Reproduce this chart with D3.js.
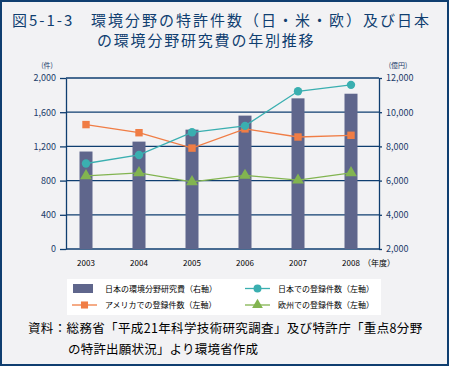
<!DOCTYPE html>
<html>
<head>
<meta charset="utf-8">
<style>
  body { margin: 0; }
  #chart { display: block; }
  text { font-family: "Noto Sans CJK JP", sans-serif; }
  .tick text { font-size: 9px; fill: #1b3c6a; }
  .year text { font-size: 8px; fill: #000; }
  .legend text { font-size: 8px; fill: #000; }
</style>
<script src="https://d3js.org/d3.v7.min.js"></script>
</head>
<body>
<svg id="chart" width="449" height="366"></svg>
<script>
// data
var years = ["2003", "2004", "2005", "2006", "2007", "2008"];
var researchCost = [7700, 8280, 8980, 9800, 10810, 11080];   // 億円, right axis
var japanPatents = [1000, 1100, 1365, 1440, 1845, 1920];     // 件, left axis
var usPatents = [1455, 1360, 1180, 1405, 1310, 1330];
var euPatents = [855, 890, 785, 860, 805, 890];
var leftTicks = [0, 400, 800, 1200, 1600, 2000];
var rightTicks = [2000, 4000, 6000, 8000, 10000, 12000];

var navy = "#0f3e70";
var svg = d3.select("#chart");

// background + frame
svg.append("rect")
  .attr("x", 1).attr("y", 1).attr("width", 447).attr("height", 364)
  .attr("fill", "#f2f2f4").attr("stroke", navy).attr("stroke-width", 2);

svg.append("text").attr("x", 12).attr("y", 26)
  .attr("font-size", 15).attr("fill", navy).attr("letter-spacing", 2)
  .text("図5-1-3");
svg.append("text").attr("x", 91).attr("y", 26)
  .attr("font-size", 15).attr("fill", navy).attr("letter-spacing", 2)
  .text("環境分野の特許件数（日・米・欧）及び日本");
svg.append("text").attr("x", 97).attr("y", 46)
  .attr("font-size", 15).attr("fill", navy).attr("letter-spacing", 1.8)
  .text("の環境分野研究費の年別推移");

var plotL = 66, plotR = 379, plotT = 78, plotB = 249;

var x = d3.scalePoint().domain(years).range([86, 351]);
var yL = d3.scaleLinear().domain([0, 2000]).range([plotB, plotT]);
var yR = d3.scaleLinear().domain([2000, 12000]).range([plotB, plotT]);

// gridlines
svg.append("g").selectAll("line").data(leftTicks).enter().append("line")
  .attr("x1", plotL).attr("x2", plotR)
  .attr("y1", d => yL(d)).attr("y2", d => yL(d))
  .attr("stroke", navy).attr("stroke-width", 1.3);

// bars
svg.append("g").selectAll("rect").data(researchCost).enter().append("rect")
  .attr("x", (d, i) => x(years[i]) - 6.5)
  .attr("width", 13)
  .attr("y", d => yR(d))
  .attr("height", d => plotB - yR(d))
  .attr("fill", "#5f668c");

// axes
var fmt = d3.format(",");
svg.append("g").attr("transform", "translate(" + plotL + ",0)")
  .call(d3.axisLeft(yL).tickValues(leftTicks).tickFormat(fmt).tickSizeInner(6).tickSizeOuter(0).tickPadding(4))
  .call(g => g.selectAll("line, path").attr("stroke", navy).attr("stroke-width", 1.3));
svg.append("g").attr("transform", "translate(" + plotR + ",0)")
  .call(d3.axisRight(yR).tickValues(rightTicks).tickFormat(fmt).tickSizeInner(3).tickSizeOuter(0).tickPadding(4))
  .call(g => g.selectAll("line, path").attr("stroke", navy).attr("stroke-width", 1.3));

svg.append("text").attr("x", 47).attr("y", 68).attr("font-size", 7)
  .attr("text-anchor", "middle").attr("fill", "#1b3c6a").text("(件)");
svg.append("text").attr("x", 398).attr("y", 68).attr("font-size", 7)
  .attr("text-anchor", "middle").attr("fill", "#1b3c6a").text("(億円)");

// year labels
var yr = svg.append("g").attr("class", "year");
yr.selectAll("text").data(years).enter().append("text")
  .attr("x", d => x(d)).attr("y", 266).attr("text-anchor", "middle")
  .text(d => d);
yr.append("text").attr("x", x("2008") + 12).attr("y", 266).text("（年度）");

// lines
var series = [
  { name: "アメリカでの登録件数（左軸）", values: usPatents, color: "#f07d45", shape: d3.symbolSquare },
  { name: "日本での登録件数（左軸）", values: japanPatents, color: "#3aafb0", shape: d3.symbolCircle },
  { name: "欧州での登録件数（左軸）", values: euPatents, color: "#82b450", shape: d3.symbolTriangle }
];
var line = d3.line().x((d, i) => x(years[i])).y(d => yL(d));
series.forEach(function(s) {
  svg.append("path").datum(s.values).attr("d", line)
    .attr("fill", "none").attr("stroke", s.color).attr("stroke-width", 1.3);
  svg.append("g").selectAll("path").data(s.values).enter().append("path")
    .attr("transform", (d, i) => "translate(" + x(years[i]) + "," + yL(d) + ")")
    .attr("d", d3.symbol().type(s.shape).size(s.shape === d3.symbolTriangle ? 60 : 55))
    .attr("fill", s.color);
});

// legend
var lg = svg.append("g").attr("class", "legend");
lg.append("rect").attr("x", 67).attr("y", 279).attr("width", 314).attr("height", 36).attr("fill", "#fff");
lg.append("rect").attr("x", 73).attr("y", 284).attr("width", 20).attr("height", 9).attr("fill", "#5f668c");
lg.append("text").attr("x", 105).attr("y", 291.5).text("日本の環境分野研究費（右軸）");
var items = [
  { s: series[1], x: 245, y: 288.5 },
  { s: series[0], x: 72, y: 305 },
  { s: series[2], x: 245, y: 305 }
];
items.forEach(function(it) {
  lg.append("line").attr("x1", it.x).attr("x2", it.x + 25)
    .attr("y1", it.y).attr("y2", it.y).attr("stroke", it.s.color).attr("stroke-width", 1.3);
  lg.append("path").attr("transform", "translate(" + (it.x + 12.5) + "," + it.y + ")")
    .attr("d", d3.symbol().type(it.s.shape).size(50)).attr("fill", it.s.color);
  lg.append("text").attr("x", it.x === 72 ? 105 : 278).attr("y", it.y + 3).text(it.s.name);
});

// source
svg.append("text").attr("x", 28).attr("y", 333).attr("font-size", 12.5).attr("fill", "#000")
  .attr("letter-spacing", 0.35)
  .text("資料：総務省「平成21年科学技術研究調査」及び特許庁「重点8分野");
svg.append("text").attr("x", 68).attr("y", 354).attr("font-size", 12.5).attr("fill", "#000")
  .attr("letter-spacing", 0.2)
  .text("の特許出願状況」より環境省作成");
</script>
</body>
</html>
